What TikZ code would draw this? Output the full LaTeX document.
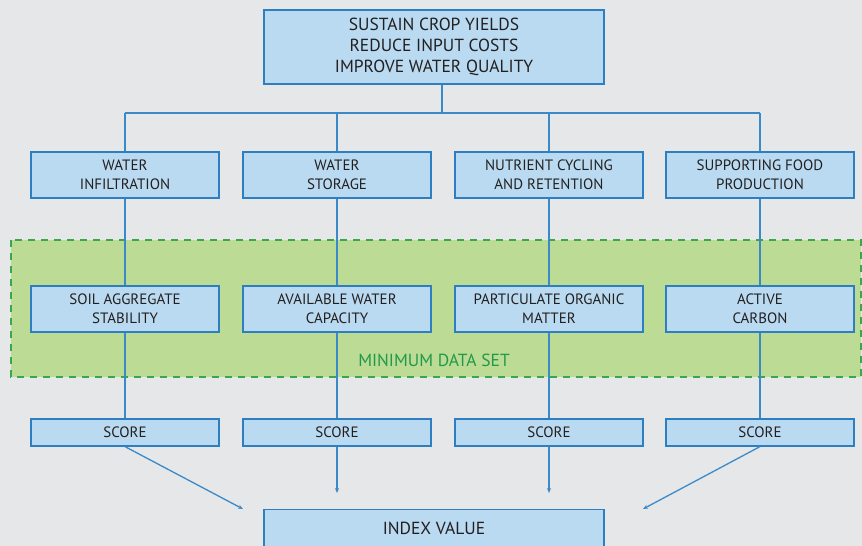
\documentclass[tikz,border=0pt]{standalone}
\usepackage{fontspec}
\setmainfont{PT Sans}
\usetikzlibrary{arrows.meta}
\definecolor{bg}{HTML}{E6E7E9}
\definecolor{boxfill}{HTML}{B9DAF0}
\definecolor{boxline}{HTML}{2E7FC1}
\definecolor{linec}{HTML}{3A8AC9}
\definecolor{greenfill}{HTML}{BCDB94}
\definecolor{greenline}{HTML}{3AA84A}
\definecolor{greentext}{HTML}{22994A}
\definecolor{txt}{HTML}{231F20}
\tikzset{
  box/.style={draw=boxline, line width=1.2pt, fill=boxfill, text=txt, inner sep=0pt, align=center, font=\fontsize{15}{19}\selectfont},
  midbox/.style={box, minimum width=188pt, minimum height=46pt},
  scorebox/.style={box, minimum width=188pt, minimum height=27pt},
  conn/.style={draw=linec, line width=1.3pt},
  arr/.style={conn, -{Stealth[length=5pt,width=4pt]}}
}
\begin{document}
\begin{tikzpicture}[x=1pt,y=-1pt]
\fill[bg] (0,0) rectangle (862,546);
\useasboundingbox (0,0) rectangle (862,546);
% minimum data set region
\draw[greenline, fill=greenfill, line width=1.2pt, dash pattern=on 7pt off 6pt] (11,240) rectangle (861,377);
\node[text=greentext, font=\fontsize{17.5}{21}\selectfont] (mds) at (434,360) {MINIMUM DATA SET};
% top
\node[box, minimum width=340pt, minimum height=74pt, font=\fontsize{17.5}{21}\selectfont] (top) at (434,47) {SUSTAIN CROP YIELDS\\REDUCE INPUT COSTS\\IMPROVE WATER QUALITY};
\coordinate (bus) at (442,113);
% row 1
\node[midbox] (f1) at (125,175) {WATER\\INFILTRATION};
\node[midbox] (f2) at (337,175) {WATER\\STORAGE};
\node[midbox] (f3) at (549,175) {NUTRIENT CYCLING\\AND RETENTION};
\node[midbox] (f4) at (760,175) {SUPPORTING FOOD\\PRODUCTION};
% row 2
\node[midbox] (m1) at (125,309) {SOIL AGGREGATE\\STABILITY};
\node[midbox] (m2) at (337,309) {AVAILABLE WATER\\CAPACITY};
\node[midbox] (m3) at (549,309) {PARTICULATE ORGANIC\\MATTER};
\node[midbox] (m4) at (760,309) {ACTIVE\\CARBON};
% scores
\node[scorebox] (s1) at (125,432.5) {SCORE};
\node[scorebox] (s2) at (337,432.5) {SCORE};
\node[scorebox] (s3) at (549,432.5) {SCORE};
\node[scorebox] (s4) at (760,432.5) {SCORE};
% index
\node[box, minimum width=340pt, minimum height=50pt, anchor=north] (idx) at (434,509) {};
\node[text=txt, font=\fontsize{17.5}{21}\selectfont] (idxt) at (434,528) {INDEX VALUE};
\coordinate (t2) at (337,493);
\coordinate (t3) at (549,493);
\coordinate (t1) at (243,509);
\coordinate (t4) at (643,509);
% connectors
\draw[conn] (top.south -| bus) -- (bus);
\draw[conn] (f1.north |- bus) -- (f4.north |- bus);
\foreach \i in {1,2,3,4}{
  \draw[conn] (f\i.north |- bus) -- (f\i.north);
  \draw[conn] (f\i.south) -- (m\i.north);
  \draw[conn] (m\i.south) -- (s\i.north);
}
\draw[arr] (s2.south) -- (t2);
\draw[arr] (s3.south) -- (t3);
\draw[arr] (s1.south) -- (t1);
\draw[arr] (s4.south) -- (t4);
\end{tikzpicture}
\end{document}
